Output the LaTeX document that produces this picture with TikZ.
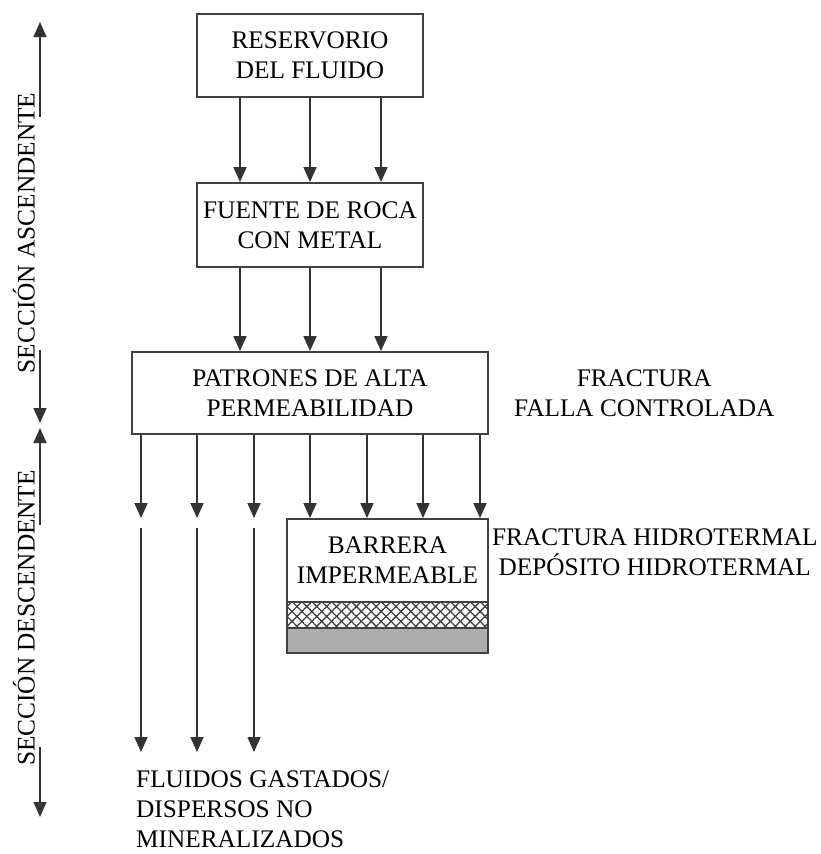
\documentclass[tikz,border=0pt]{standalone}
\usepackage{fontspec}
\setmainfont{Liberation Serif}
\usetikzlibrary{arrows.meta, positioning, patterns.meta}

\begin{document}
\begin{tikzpicture}[
  x=1pt, y=-1pt,
  >={Triangle[width=13pt,length=15pt]},
  caja/.style={rectangle, draw=black!75, line width=1.8pt, fill=white, minimum width=#1pt, inner sep=0pt, align=center, font=\fontsize{25.3}{30}\selectfont},
  capa/.style={rectangle, draw=black!75, line width=1.8pt, minimum width=201pt, inner sep=0pt},
  etiqueta/.style={inner sep=0pt, align=center, font=\fontsize{25.3}{30}\selectfont},
  flecha/.style={->, line width=1.6pt, draw=black!80, fill=black!85}
]
  \useasboundingbox (0,0) rectangle (820,854);

  \node[caja=226, minimum height=83pt] (reservorio) at (310,55.5) {RESERVORIO\\DEL FLUIDO};
  \node[caja=226, minimum height=84pt] (fuente) at (310,225) {FUENTE DE ROCA\\CON METAL};
  \node[caja=356, minimum height=82pt] (patrones) at (310,393) {PATRONES DE ALTA\\PERMEABILIDAD};
  \node[caja=201, minimum height=83pt] (barrera) at (387.5,560.5) {BARRERA\\IMPERMEABLE};
  \node[capa, minimum height=26pt,
        preaction={pattern={Lines[angle=45,distance=7pt,line width=1.3pt]}, pattern color=black!75},
        preaction={pattern={Lines[angle=-45,distance=7pt,line width=1.3pt]}, pattern color=black!75}] (enrejado) at (387.5,615) {};
  \node[capa, minimum height=25pt, fill=black!32] (mena) at (387.5,640.5) {};

  \node[etiqueta, right=25pt of patrones] (falla) {FRACTURA\\FALLA CONTROLADA};
  \node[etiqueta, right=3pt of barrera, yshift=8pt] (hidrotermal) {FRACTURA HIDROTERMAL\\DEPÓSITO HIDROTERMAL};
  \node[etiqueta, align=left, anchor=north west] (gastados) at (136,771) {FLUIDOS GASTADOS/\\DISPERSOS NO\\MINERALIZADOS};

  \node[etiqueta, rotate=90] (ascendente) at (24,233) {SECCIÓN ASCENDENTE};
  \node[etiqueta, rotate=90] (descendente) at (24,618) {SECCIÓN DESCENDENTE};

  \coordinate (ascArriba) at (40,22);
  \coordinate (ascCorte1) at (40,117);
  \coordinate (ascCorte2) at (40,350);
  \coordinate (ascAbajo) at (40,423);
  \coordinate (descArriba) at (40,428);
  \coordinate (descCorte1) at (40,525);
  \coordinate (descCorte2) at (40,747);
  \coordinate (descAbajo) at (40,817);
  \draw[flecha] (ascCorte1) -- (ascArriba);
  \draw[flecha] (ascCorte2) -- (ascAbajo);
  \draw[flecha] (descCorte1) -- (descArriba);
  \draw[flecha] (descCorte2) -- (descAbajo);

  \foreach \dx in {-70,0,71} {
    \draw[flecha] ([xshift=\dx pt]reservorio.south) -- ([xshift=\dx pt]fuente.north);
    \draw[flecha] ([xshift=\dx pt]fuente.south) -- ([xshift=\dx pt]patrones.north);
  }

  \coordinate (gastoInicio) at (0,528);
  \coordinate (gastoFin) at (0,752);
  \foreach \dx [count=\i] in {-169,-113,-56,0,57,113,170}
    \coordinate (p\i) at ([xshift=\dx pt]patrones.south);
  \foreach \i in {1,...,7}
    \draw[flecha] (p\i) -- (p\i |- barrera.north);
  \foreach \i in {1,2,3}
    \draw[flecha] (p\i |- gastoInicio) -- (p\i |- gastoFin);
\end{tikzpicture}
\end{document}
